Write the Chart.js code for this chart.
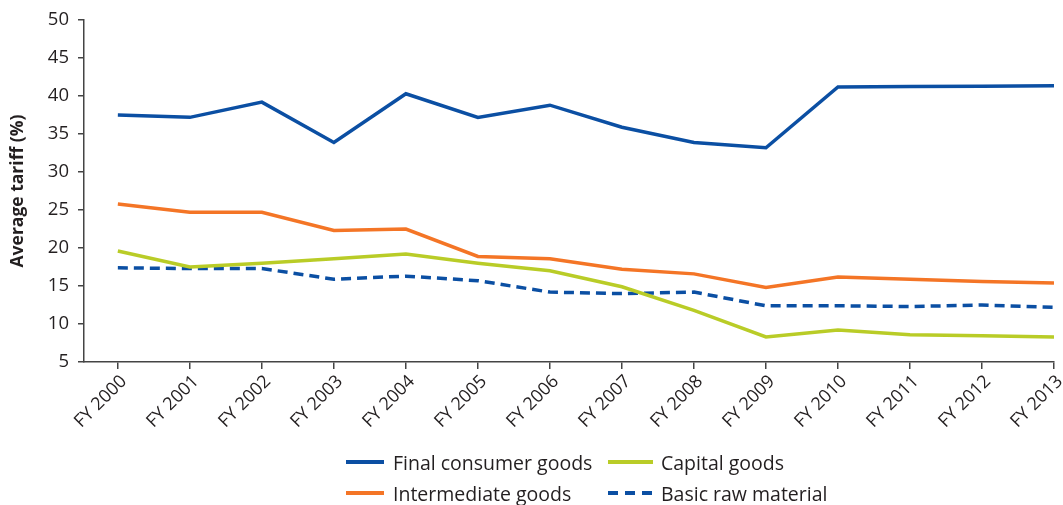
<!DOCTYPE html>
<html>
<head>
<meta charset="utf-8">
<script src="https://cdn.jsdelivr.net/npm/chart.js@4.4.1/dist/chart.umd.min.js"></script>
<style>
  html, body { margin: 0; padding: 0; background: #fff; }
  #wrap { position: relative; width: 1063px; height: 505px; overflow: hidden; font-family: "Open Sans", "Noto Sans", sans-serif; }
  #chartBox { position: absolute; left: 0; top: 0; width: 1063px; height: 440px; }
  #legend { position: absolute; left: 0; top: 0; width: 1063px; height: 505px; pointer-events: none; }
  .item { position: absolute; display: flex; align-items: center; font-size: 19.5px; color: #231f20; white-space: nowrap; }
  .sw { height: 0; }
</style>
</head>
<body>
<div id="wrap">
  <div id="chartBox"><canvas id="c"></canvas></div>
  <div id="legend"></div>
</div>
<script>
const years = ["FY 2000","FY 2001","FY 2002","FY 2003","FY 2004","FY 2005","FY 2006","FY 2007","FY 2008","FY 2009","FY 2010","FY 2011","FY 2012","FY 2013"];
const finalConsumer = [37.5, 37.2, 39.2, 33.9, 40.3, 37.2, 38.8, 35.9, 33.9, 33.2, 41.2, 41.25, 41.3, 41.35];
const intermediate  = [25.8, 24.7, 24.7, 22.3, 22.5, 18.9, 18.6, 17.2, 16.6, 14.8, 16.2, 15.9, 15.6, 15.4];
const capital       = [19.6, 17.5, 18.0, 18.6, 19.2, 18.0, 17.0, 14.9, 11.8, 8.3, 9.2, 8.6, 8.45, 8.3];
const basicRaw      = [17.4, 17.3, 17.3, 15.9, 16.3, 15.7, 14.2, 14.0, 14.2, 12.4, 12.4, 12.3, 12.5, 12.2];
const yTicks = [5, 10, 15, 20, 25, 30, 35, 40, 45, 50];

const BLUE = "#0b4fa3", ORANGE = "#f47526", GREEN = "#b9cc27";
const pts = arr => arr.map((v, i) => ({ x: i, y: v }));

const datasets = [
  { label: "Final consumer goods", data: pts(finalConsumer), borderColor: BLUE, borderWidth: 3.5, dash: [] },
  { label: "Intermediate goods", data: pts(intermediate), borderColor: ORANGE, borderWidth: 3.5, dash: [] },
  { label: "Capital goods", data: pts(capital), borderColor: GREEN, borderWidth: 3.5, dash: [] },
  { label: "Basic raw material", data: pts(basicRaw), borderColor: BLUE, borderWidth: 3.5, dash: [10, 6] }
].map(d => ({ ...d, borderDash: d.dash, pointRadius: 0, tension: 0, fill: false, borderJoinStyle: "miter", borderCapStyle: "butt" }));

const FONT = "'Open Sans', 'Noto Sans', sans-serif";
Chart.defaults.font.family = FONT;
Chart.defaults.color = "#231f20";

new Chart(document.getElementById("c"), {
  type: "line",
  data: { datasets },
  options: {
    responsive: true,
    maintainAspectRatio: false,
    animation: false,
    layout: { padding: { top: 20, right: 9, left: 8, bottom: 0 } },
    plugins: { legend: { display: false }, tooltip: { enabled: false } },
    scales: {
      x: {
        type: "linear",
        min: -0.47,
        max: 13,
        afterBuildTicks: s => { s.ticks = years.map((_, i) => ({ value: i })); },
        afterFit: s => { s.height = 78; s.paddingRight = 0; s.paddingLeft = 0; },
        ticks: {
          callback: v => years[v],
          maxRotation: 45, minRotation: 45,
          font: { size: 18 }, color: "#231f20", padding: 2, labelOffset: 6
        },
        grid: { drawOnChartArea: false, drawTicks: true, tickLength: 7, color: "#444", lineWidth: 1.5 },
        border: { color: "#444", width: 1.5 }
      },
      y: {
        type: "linear",
        min: 5, max: 50,
        afterBuildTicks: s => { s.ticks = yTicks.map(v => ({ value: v })); },
        afterFit: s => { s.width = 76; },
        ticks: { font: { size: 18.5 }, color: "#231f20", padding: 9 },
        grid: { drawOnChartArea: false, drawTicks: true, tickLength: 6, color: "#444", lineWidth: 1.5 },
        border: { color: "#444", width: 1.5 },
        title: { display: true, text: "Average tariff (%)", font: { size: 17.5, weight: "bold" }, color: "#231f20", padding: { top: 0, bottom: 0 } }
      }
    }
  }
});

// legend built from the datasets
const legendPos = [
  { left: 346, top: 462, w: 38, gap: 9 },  // Final consumer goods
  { left: 346, top: 493, w: 38, gap: 9 },  // Intermediate goods
  { left: 608, top: 462, w: 45, gap: 8 },  // Capital goods
  { left: 608, top: 493, w: 45, gap: 8 }   // Basic raw material
];
const lg = document.getElementById("legend");
datasets.forEach((d, i) => {
  const p = legendPos[i];
  const it = document.createElement("div");
  it.className = "item";
  it.style.left = p.left + "px";
  it.style.top = (p.top - 14) + "px";
  it.style.height = "28px";
  const sw = document.createElement("span");
  sw.className = "sw";
  sw.style.width = p.w + "px";
  sw.style.marginRight = p.gap + "px";
  if (d.dash.length) {
    sw.style.height = "4px";
    sw.style.background = "repeating-linear-gradient(90deg," + d.borderColor + " 0 10px, transparent 10px 17px)";
  } else {
    sw.style.borderTop = "4px solid " + d.borderColor;
  }
  const tx = document.createElement("span");
  tx.textContent = d.label;
  it.appendChild(sw); it.appendChild(tx);
  lg.appendChild(it);
});
</script>
</body>
</html>
